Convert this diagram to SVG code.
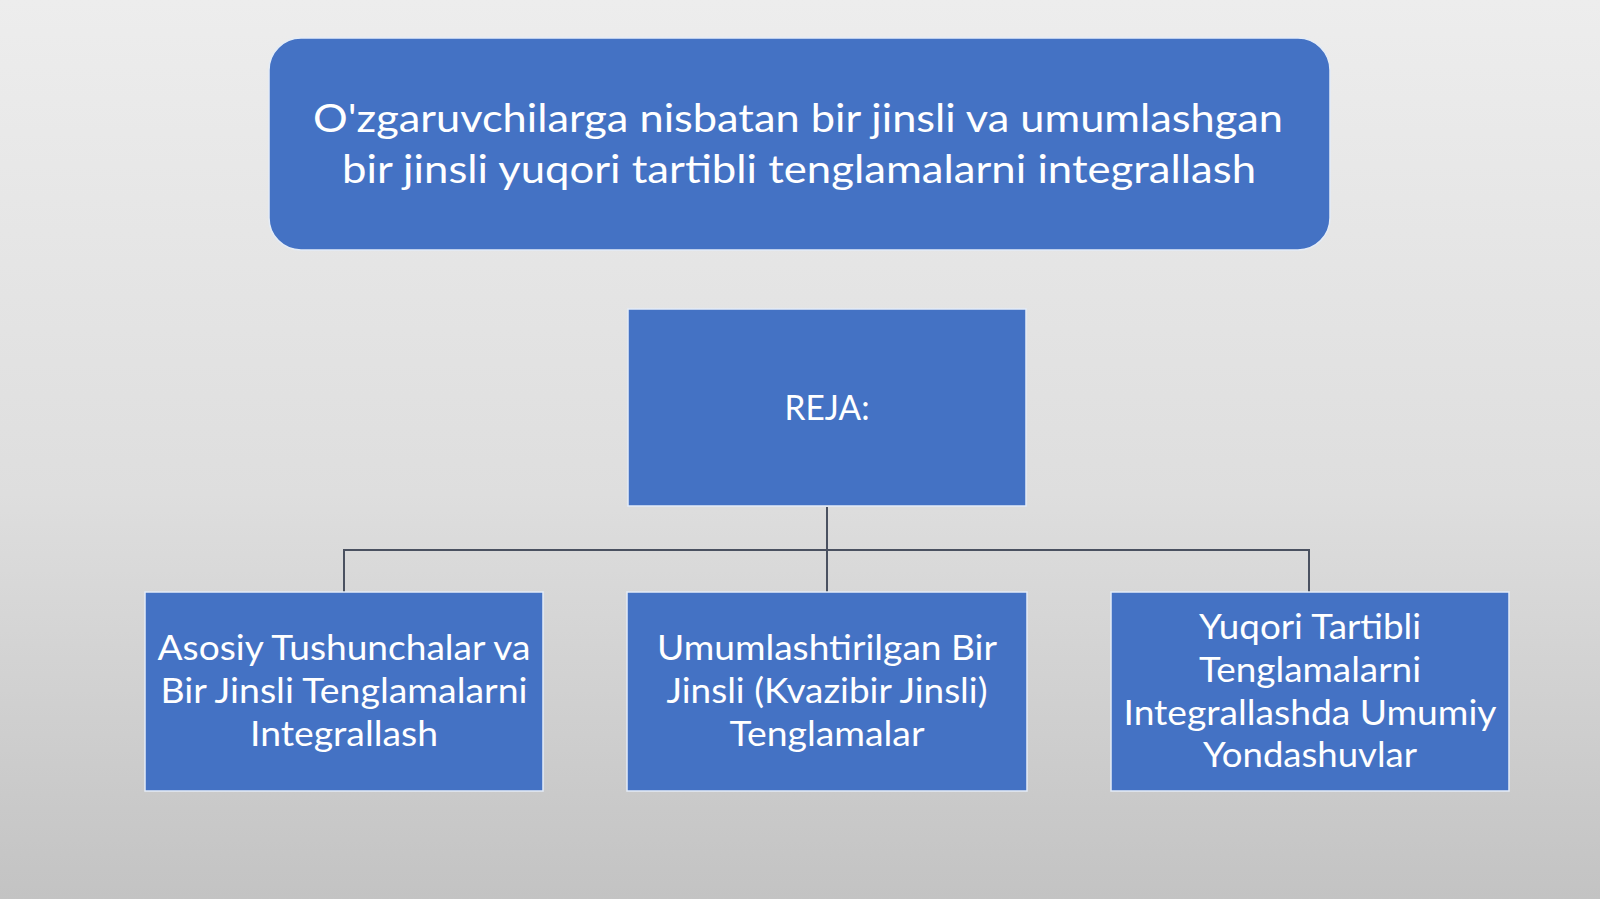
<svg xmlns="http://www.w3.org/2000/svg" width="1600" height="899" viewBox="0 0 1600 899">
  <defs>
    <linearGradient id="bg" x1="0" y1="0" x2="0" y2="1">
      <stop offset="0" stop-color="#ededed"/>
      <stop offset="0.55" stop-color="#dedede"/>
      <stop offset="1" stop-color="#c3c3c3"/>
    </linearGradient>
  </defs>
  <style>
    .box { fill: #4472c4; stroke: #e4ecf7; stroke-width: 1.5; }
    .t { font-family: Lato, "Open Sans", sans-serif; fill: #ffffff; text-anchor: middle; }
    .title { font-size: 38px; }
    .lbl { font-size: 35px; }
    .conn { fill: none; stroke: #4a5160; stroke-width: 2; }
  </style>
  <rect x="0" y="0" width="1600" height="899" fill="url(#bg)"/>

  <g id="connectors">
    <path class="conn" d="M827 507 V592"/>
    <path class="conn" d="M344 592 V550 H1309 V592"/>
  </g>

  <g id="title">
    <rect class="box" x="269" y="38" width="1061" height="212" rx="32" ry="32"/>
    <text class="t title" x="798" y="132" textLength="970" lengthAdjust="spacingAndGlyphs">O'zgaruvchilarga nisbatan bir jinsli va umumlashgan</text>
    <text class="t title" x="799" y="183" textLength="914" lengthAdjust="spacingAndGlyphs">bir jinsli yuqori tartibli tenglamalarni integrallash</text>
  </g>

  <g id="reja">
    <rect class="box" x="628" y="309" width="398" height="197"/>
    <text class="t lbl" x="827" y="420" textLength="85" lengthAdjust="spacingAndGlyphs">REJA:</text>
  </g>

  <g id="node1">
    <rect class="box" x="145" y="592" width="398" height="199"/>
    <text class="t lbl" x="344" y="660" textLength="373" lengthAdjust="spacingAndGlyphs">Asosiy Tushunchalar va</text>
    <text class="t lbl" x="344" y="703" textLength="367" lengthAdjust="spacingAndGlyphs">Bir Jinsli Tenglamalarni</text>
    <text class="t lbl" x="344" y="746" textLength="188" lengthAdjust="spacingAndGlyphs">Integrallash</text>
  </g>

  <g id="node2">
    <rect class="box" x="627" y="592" width="400" height="199"/>
    <text class="t lbl" x="827" y="660" textLength="340" lengthAdjust="spacingAndGlyphs">Umumlashtirilgan Bir</text>
    <text class="t lbl" x="827" y="703" textLength="321" lengthAdjust="spacingAndGlyphs">Jinsli (Kvazibir Jinsli)</text>
    <text class="t lbl" x="827" y="746" textLength="195" lengthAdjust="spacingAndGlyphs">Tenglamalar</text>
  </g>

  <g id="node3">
    <rect class="box" x="1111" y="592" width="398" height="199"/>
    <text class="t lbl" x="1310" y="639" textLength="222" lengthAdjust="spacingAndGlyphs">Yuqori Tartibli</text>
    <text class="t lbl" x="1310" y="682" textLength="222" lengthAdjust="spacingAndGlyphs">Tenglamalarni</text>
    <text class="t lbl" x="1310" y="725" textLength="373" lengthAdjust="spacingAndGlyphs">Integrallashda Umumiy</text>
    <text class="t lbl" x="1310" y="767" textLength="214" lengthAdjust="spacingAndGlyphs">Yondashuvlar</text>
  </g>
</svg>
